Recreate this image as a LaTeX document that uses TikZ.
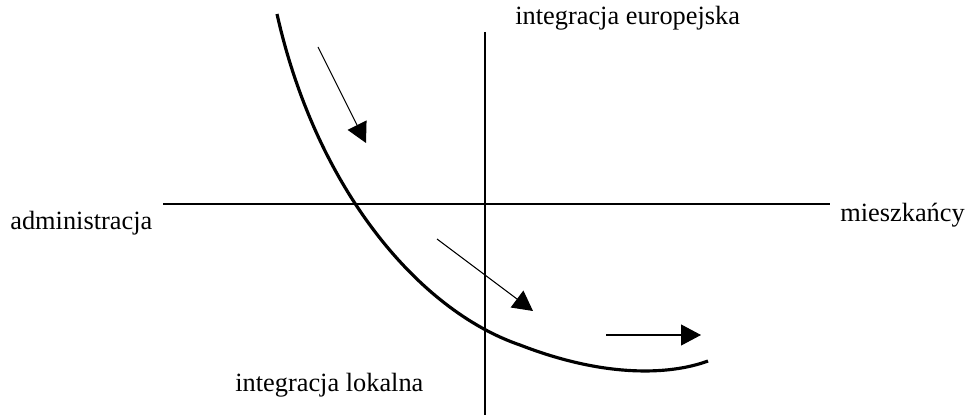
\documentclass[tikz,border=0pt]{standalone}
\usepackage{fontspec}
\setmainfont{Liberation Serif}
\usetikzlibrary{arrows.meta}

\begin{document}
\begin{tikzpicture}[x=0.02cm,y=-0.02cm,font=\fontsize{15}{18}\selectfont,
  axis/.style={line width=0.6pt},
  path/.style={line width=1.8pt},
  flow/.style={line width=0.6pt,-{Triangle[length=0.4cm,width=0.42cm]}},
  lbl/.style={anchor=base west,inner sep=0pt}]
  \useasboundingbox (0,0) rectangle (970,415);
  % axes
  \coordinate (top) at (485,32);
  \coordinate (bot) at (485,415);
  \coordinate (left) at (163,204);
  \coordinate (right) at (830,204);
  \draw[axis] (top) -- (bot);
  \draw[axis] (left) -- (right);
  \node[lbl] (eu) at (515,25) {integracja europejska};
  \node[lbl] (lok) at (235,391) {integracja lokalna};
  \node[lbl] (adm) at (10,230) {administracja};
  \node[lbl] (mie) at (840,222) {mieszkańcy};
  % curve
  \coordinate (c0) at (277,14);
  \coordinate (c1) at (520,345);
  \coordinate (c2) at (708,361);
  \draw[path] (c0) .. controls (316,188) and (418,310) .. (c1)
    .. controls (605,378) and (670,375) .. (c2);
  % arrows
  \coordinate (a1s) at (318,47);
  \coordinate (a1e) at (366,143);
  \coordinate (a2s) at (437,239);
  \coordinate (a2e) at (533,311);
  \coordinate (a3s) at (606,335);
  \coordinate (a3e) at (701,335);
  \draw[flow] (a1s) -- (a1e);
  \draw[flow] (a2s) -- (a2e);
  \draw[flow] (a3s) -- (a3e);
\end{tikzpicture}
\end{document}
